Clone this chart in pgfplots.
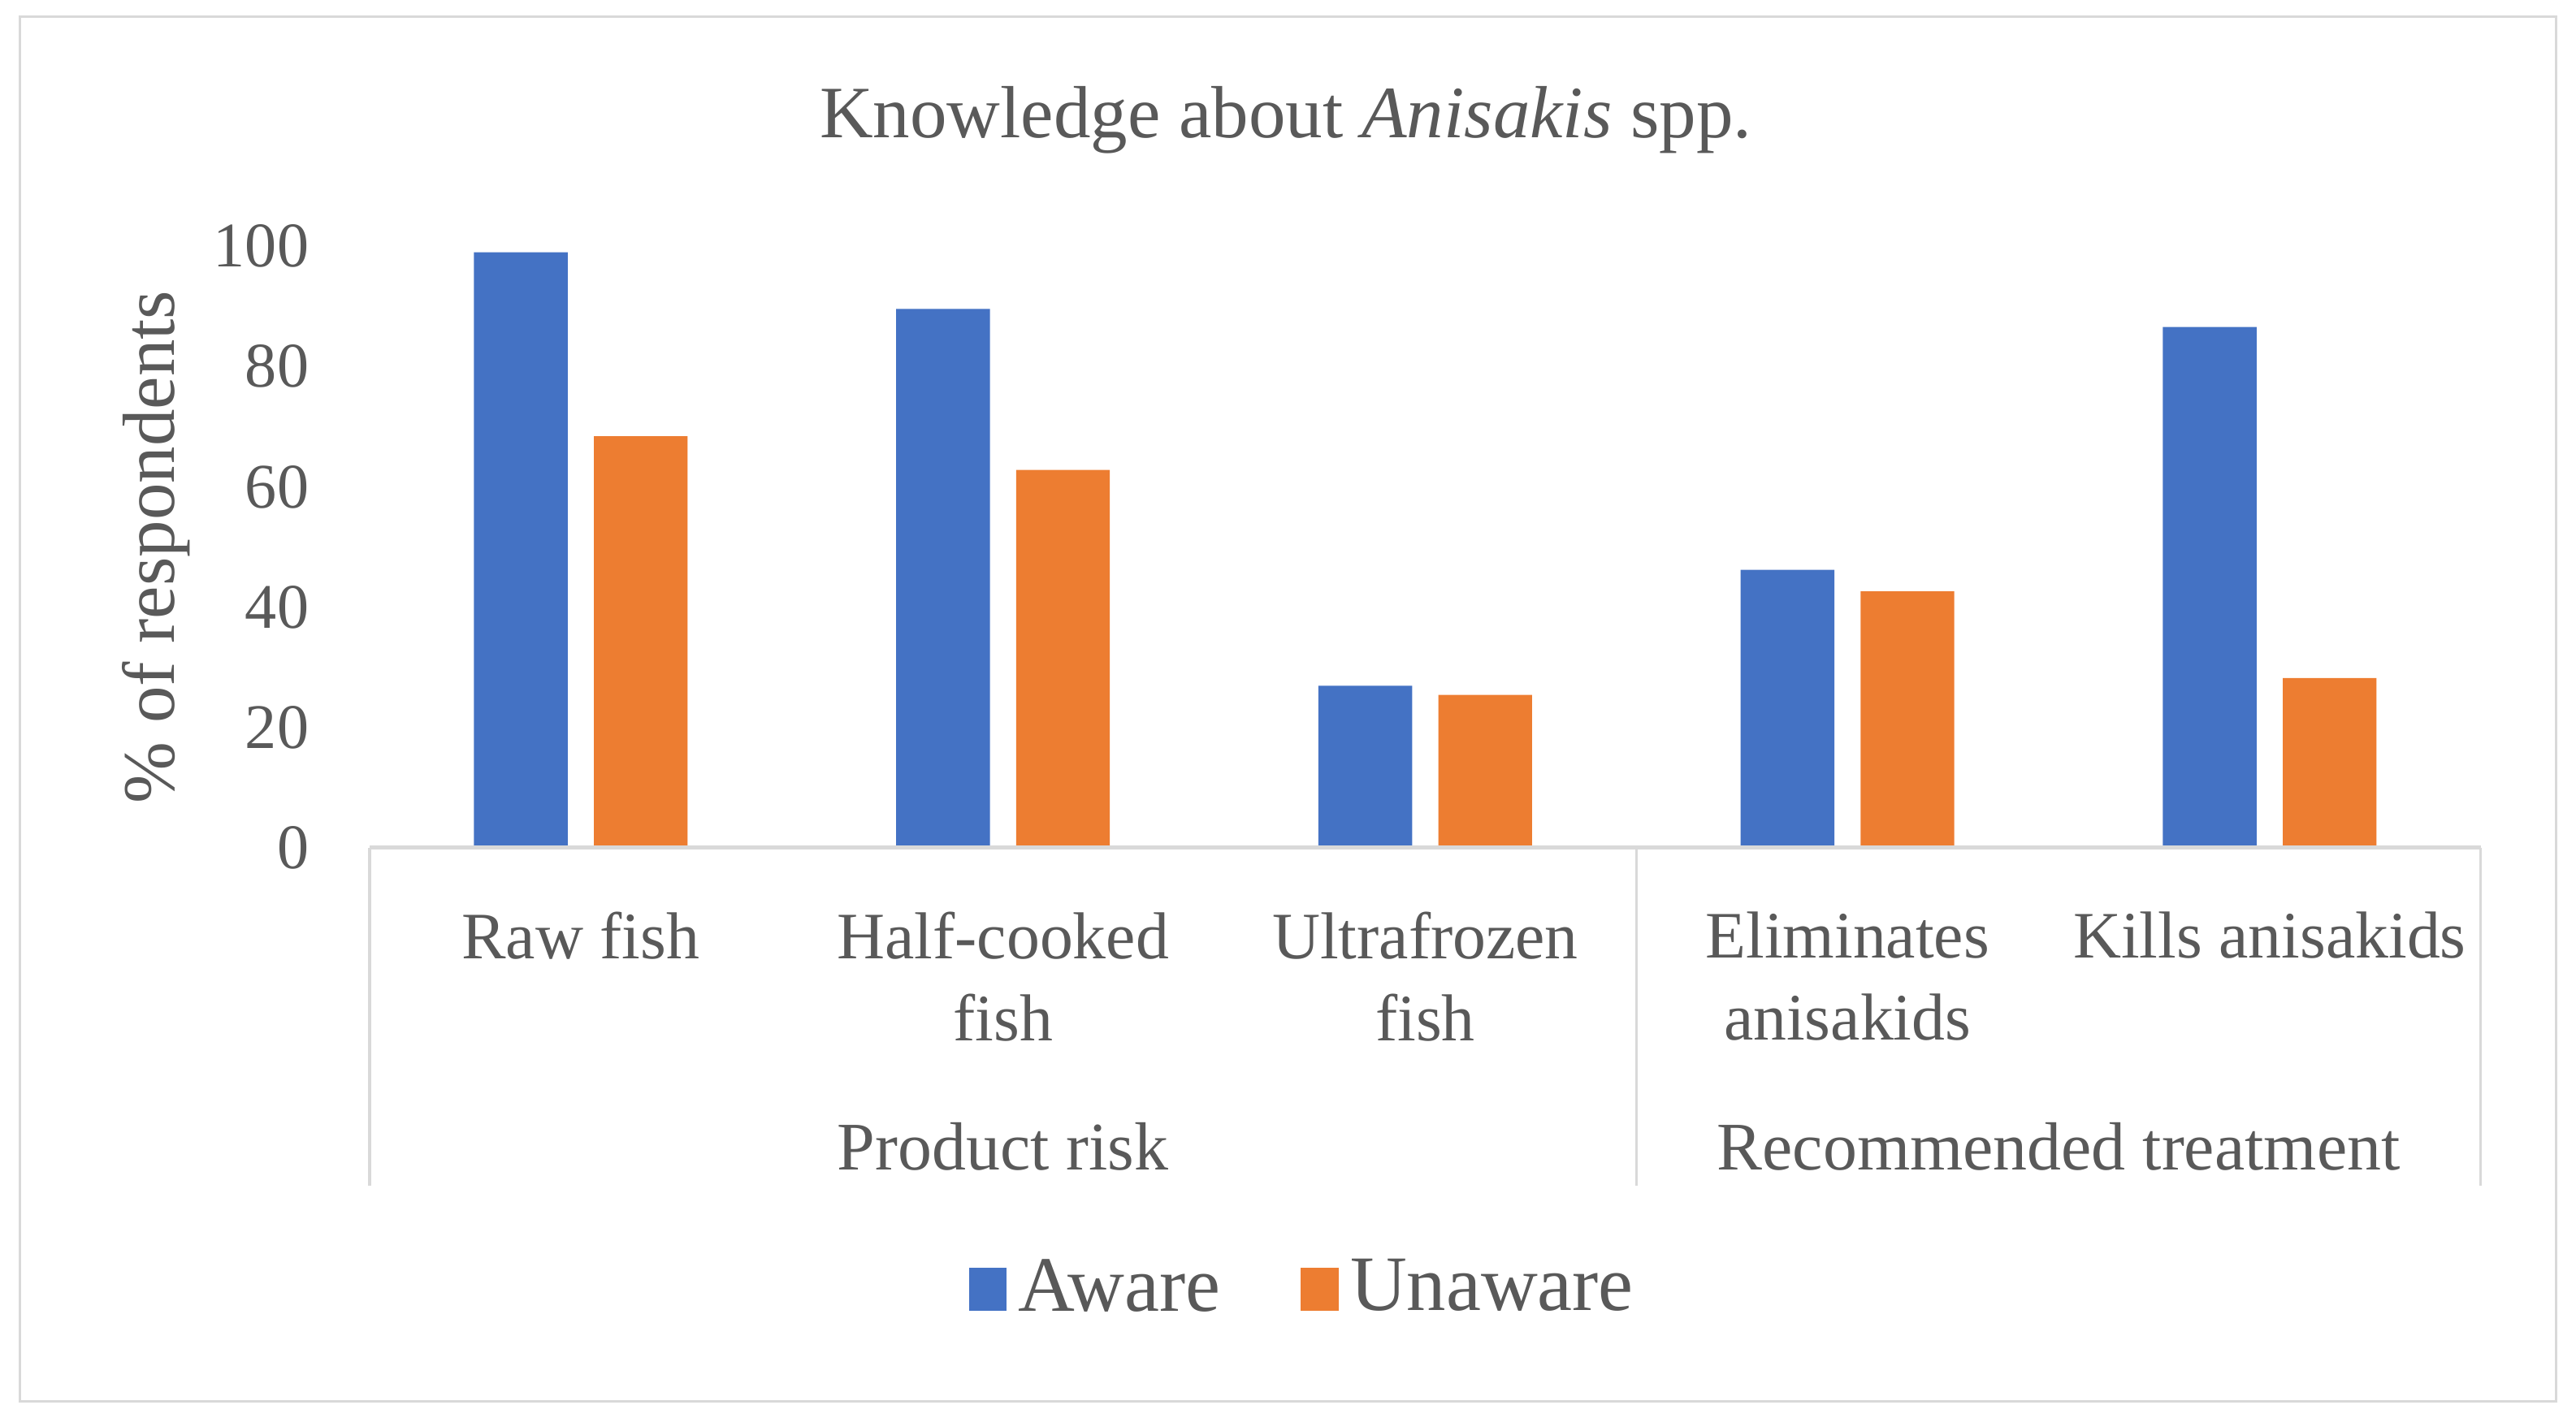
\documentclass[border=0pt]{standalone}
\usepackage{fontspec}
\setmainfont{Liberation Serif}
\usepackage{pgfplots}
\pgfplotsset{compat=1.18}
\definecolor{awblue}{HTML}{4472C4}
\definecolor{unorange}{HTML}{ED7D31}
\definecolor{txtgray}{HTML}{595959}
\definecolor{linegray}{HTML}{D9D9D9}
\begin{document}
\begin{tikzpicture}
\begin{axis}[
  scale only axis, width=12.85cm, height=3.66cm,
  xmin=-0.5, xmax=4.5, ymin=0, ymax=100,
  ybar, bar width=0.222,
  axis line style={draw=none}, major tick length=0,
  ytick={0,20,...,100},
  /pgf/number format/assume math mode=true,
  yticklabel style={font=\fontsize{11}{12}\selectfont, text=txtgray, xshift=-7pt},
  xtick={0,...,4},
  xticklabels={Raw fish, Half-cooked\\fish, Ultrafrozen\\fish, Eliminates\\anisakids, Kills anisakids},
  xticklabel style={align=center, font=\fontsize{11.5}{14.2}\selectfont, text=txtgray, yshift=-0.27cm},
  ylabel={\% of respondents},
  every axis y label/.style={at={([xshift=-1.3cm]rel axis cs:0,0.5)}, rotate=90, anchor=center,
    font=\fontsize{12.8}{14}\selectfont, text=txtgray},
  title={Knowledge about \textit{Anisakis} spp.},
  every axis title/.style={at={(rel axis cs:0.434,1.21)}, anchor=center, font=\fontsize{12.8}{15}\selectfont, text=txtgray},
  clip=false,
  legend columns=2,
  legend style={at={(rel axis cs:0.444,-0.735)}, anchor=center, draw=none,
    font=\fontsize{13.6}{15}\selectfont, text=txtgray,
    /tikz/every even column/.append style={column sep=0.42cm}},
]
\addplot[fill=awblue, draw=none, bar shift=-0.142,
  legend image code/.code={\fill[awblue] (0cm,-0.13cm) rectangle (0.23cm,0.13cm);}]
  coordinates {(0,99.0) (1,89.6) (2,26.9) (3,46.2) (4,86.6)};
\addlegendentry{Aware}
\addplot[fill=unorange, draw=none, bar shift=0.142,
  legend image code/.code={\fill[unorange] (0cm,-0.13cm) rectangle (0.23cm,0.13cm);}]
  coordinates {(0,68.4) (1,62.8) (2,25.4) (3,42.6) (4,28.2)};
\addlegendentry{Unaware}
% category axis and group separators
\draw[linegray, line width=0.7pt] (axis cs:-0.5,0) -- (axis cs:4.5,0);
\draw[linegray, line width=0.45pt] (axis cs:-0.5,0) -- (axis cs:-0.5,-56.3);
\draw[linegray, line width=0.45pt] (axis cs:2.5,0) -- (axis cs:2.5,-56.3);
\draw[linegray, line width=0.45pt] (axis cs:4.5,0) -- (axis cs:4.5,-56.3);
\node[text=txtgray, font=\fontsize{11.8}{14}\selectfont] at (axis cs:1,-49.7) {Product risk};
\node[text=txtgray, font=\fontsize{11.8}{14}\selectfont] at (axis cs:3.5,-49.7) {Recommended treatment};
\draw[linegray, line width=0.4pt] (rel axis cs:-0.1658,-0.9208) rectangle (rel axis cs:1.0358,1.3825);
\coordinate (bbsw) at (rel axis cs:-0.1751,-0.9481);
\coordinate (bbne) at (rel axis cs:1.0451,1.4098);
\end{axis}
\path (bbsw) rectangle (bbne);
\end{tikzpicture}
\end{document}
